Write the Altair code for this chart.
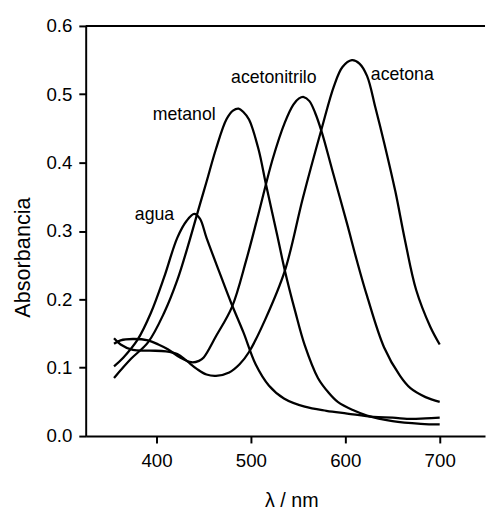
import altair as alt
import pandas as pd

# wavelength (nm) / absorbance
agua_nm = [355, 365, 380, 394, 408, 422, 432, 440, 446, 453, 466, 479, 492, 505, 519, 535, 557, 580, 602, 630, 650, 670, 685, 700]
agua_a = [0.102, 0.115, 0.141, 0.18, 0.232, 0.29, 0.315, 0.325, 0.318, 0.29, 0.242, 0.195, 0.152, 0.105, 0.074, 0.055, 0.043, 0.037, 0.033, 0.028, 0.027, 0.025, 0.026, 0.027]

metanol_nm = [355, 373, 391, 408, 422, 435, 446, 453, 463, 474, 481, 487, 492, 498, 508, 516, 528, 536, 547, 557, 571, 582, 592, 608, 623, 650, 680, 700]
metanol_a = [0.085, 0.113, 0.137, 0.18, 0.228, 0.286, 0.339, 0.372, 0.42, 0.463, 0.476, 0.479, 0.474, 0.463, 0.42, 0.368, 0.293, 0.242, 0.182, 0.133, 0.085, 0.064, 0.05, 0.038, 0.030, 0.022, 0.018, 0.017]

acetonitrilo_nm = [355, 362, 375, 391, 402, 412, 425, 437, 445, 450, 463, 480, 495, 508, 523, 536, 545, 551, 556, 562, 568, 575, 586, 602, 612, 623, 641, 658, 669, 685, 700]
acetonitrilo_a = [0.135, 0.14, 0.142, 0.14, 0.134, 0.127, 0.115, 0.108, 0.11, 0.115, 0.146, 0.189, 0.257, 0.325, 0.405, 0.459, 0.485, 0.494, 0.496, 0.49, 0.473, 0.445, 0.39, 0.31, 0.258, 0.205, 0.13, 0.088, 0.07, 0.057, 0.05]

acetona_nm = [355, 362, 375, 393, 410, 422, 432, 443, 453, 463, 477, 488, 498, 515, 536, 555, 575, 588, 597, 607, 615, 623, 632, 641, 653, 663, 675, 690, 700]
acetona_a = [0.143, 0.134, 0.126, 0.125, 0.124, 0.12, 0.11, 0.098, 0.09, 0.088, 0.093, 0.105, 0.123, 0.17, 0.242, 0.348, 0.45, 0.512, 0.54, 0.55, 0.545, 0.527, 0.48, 0.43, 0.358, 0.288, 0.214, 0.16, 0.134]

label_text = ["agua", "metanol", "acetonitrilo", "acetona"]
label_nm = [377, 396, 479, 627]
label_a = [0.316, 0.462, 0.516, 0.521]

x_ticks = [400, 500, 600, 700]
y_ticks = [0.0, 0.1, 0.2, 0.3, 0.4, 0.5, 0.6]

FONT = "Liberation Sans"

rows = []
for name, xs, ys in [("agua", agua_nm, agua_a), ("metanol", metanol_nm, metanol_a),
                     ("acetonitrilo", acetonitrilo_nm, acetonitrilo_a), ("acetona", acetona_nm, acetona_a)]:
    for i, (xv, yv) in enumerate(zip(xs, ys)):
        rows.append({"serie": name, "nm": xv, "A": yv, "i": i})
df = pd.DataFrame(rows)
labels = pd.DataFrame({"t": label_text, "nm": label_nm, "A": label_a})

W = 406
xscale = alt.Scale(domain=[325, 748], nice=False, zero=False)
yscale = alt.Scale(domain=[0, 0.6], nice=False)

xaxis = alt.Axis(values=x_ticks, format="d", title="λ / nm", grid=False,
                 domainColor="black", domainWidth=2, tickColor="black", tickWidth=2, tickSize=7,
                 labelFont=FONT, labelFontSize=19, labelColor="black", labelBaseline="alphabetic",
                 labelPadding=24, titleFont=FONT, titleFontSize=20, titleFontWeight="normal",
                 titleColor="black", titleBaseline="alphabetic", titleX=209, titleY=72)
yaxis = alt.Axis(values=y_ticks, format=".1f", title="Absorbancia", grid=False,
                 domainColor="black", domainWidth=2, tickColor="black", tickWidth=2, tickSize=7,
                 labelFont=FONT, labelFontSize=19, labelColor="black", labelPadding=7,
                 titleFont=FONT, titleFontSize=22, titleFontWeight="normal", titleColor="black",
                 titleBaseline="middle", titleAngle=-90, titleX=-64, titleY=235)

lines = alt.Chart(df).mark_line(color="black", strokeWidth=2.3, interpolate="catmull-rom").encode(
    x=alt.X("nm:Q", scale=xscale, axis=xaxis),
    y=alt.Y("A:Q", scale=yscale, axis=yaxis),
    detail="serie:N",
    order="i:Q",
)

top = alt.Chart(pd.DataFrame({"y": [0.6]})).mark_rule(color="black", strokeWidth=2).encode(
    y=alt.Y("y:Q", scale=yscale), x=alt.value(0), x2=alt.value(W)
)

text = alt.Chart(labels).mark_text(font=FONT, fontSize=18, color="black", align="left",
                                   baseline="alphabetic").encode(
    x=alt.X("nm:Q", scale=xscale), y=alt.Y("A:Q", scale=yscale), text="t:N"
)

chart = alt.layer(lines, top, text).properties(
    width=W, height=417,
    autosize=alt.AutoSizeParams(type="none"),
    padding={"left": 79, "top": 14, "right": 1, "bottom": 75},
).configure_view(stroke=None)

chart.save("out.html", embed_options={"renderer": "svg", "actions": False})
